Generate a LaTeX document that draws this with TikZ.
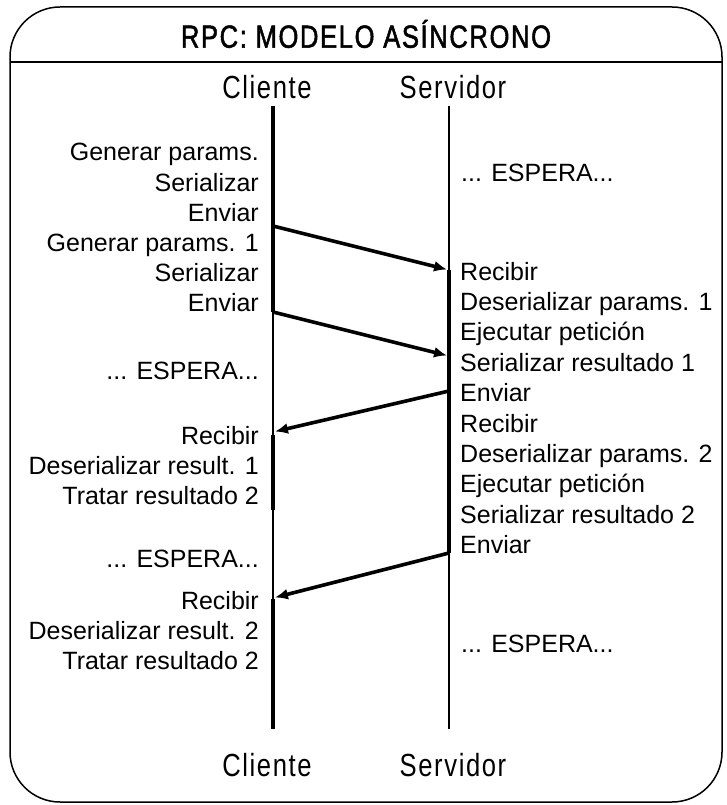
\documentclass[tikz,border=0pt]{standalone}
\usepackage{fontspec}
\setmainfont{Liberation Sans}
\newfontfamily\ejefont[FakeStretch=0.8,LetterSpace=5]{Liberation Sans}
\newfontfamily\titlefont[FakeStretch=0.8,LetterSpace=5,FakeBold=1.5]{Liberation Sans}
\usetikzlibrary{arrows.meta}

\begin{document}
\begin{tikzpicture}[x=1pt,y=-1pt,
    paso/.style={font=\fontsize{25}{30}\selectfont,inner sep=0pt},
    eje/.style={font=\ejefont\fontsize{32}{36}\selectfont,inner sep=0pt},
    titulo/.style={font=\titlefont\fontsize{32}{36}\selectfont,inner sep=0pt},
    vida/.style={line width=1.3pt},
    activo/.style={line width=4.4pt},
    msg/.style={line width=3.6pt,-{Latex[length=13pt,width=11pt]},shorten >=2pt}]
  \useasboundingbox (0,0) rectangle (726,805);
  \draw[line width=1.5pt,rounded corners=50pt] (10,7) rectangle (722,802);
  \draw[line width=1.5pt] (10,62) -- (722,62);
  \node[titulo] (titulo) at (366,34) {RPC: MODELO ASÍNCRONO};
  \node[eje] (cli) at (267,87) {Cliente};
  \node[eje] (srv) at (453,87) {Servidor};
  \node[eje] (cliB) at (267,765) {Cliente};
  \node[eje] (srvB) at (453,765) {Servidor};
  % lineas de vida
  \coordinate (c0) at (273,106);
  \coordinate (cE) at (273,729);
  \coordinate (s0) at (449,106);
  \coordinate (sE) at (449,729);
  \draw[vida] (c0) -- (cE);
  \draw[vida] (s0) -- (sE);
  % extremos de los mensajes
  \coordinate (env1) at (273,226);
  \coordinate (env2) at (273,312);
  \coordinate (rec1) at (449,270);
  \coordinate (rec2) at (449,356);
  \coordinate (res1) at (449,391);
  \coordinate (res2) at (449,553);
  \coordinate (ret1) at (273,432);
  \coordinate (ret2) at (273,598);
  \draw[activo] (c0) -- (env2);
  \draw[activo] (273,435) -- (273,510);
  \draw[activo] (273,599) -- (cE);
  \draw[activo] (rec1) -- (res2);
  \draw[msg] (env1) -- (rec1);
  \draw[msg] (env2) -- (rec2);
  \draw[msg] (res1) -- (ret1);
  \draw[msg] (res2) -- (ret2);
  % cliente
  \foreach \t [count=\i] in {Generar params., Serializar, Enviar,
      Generar params. 1, Serializar, Enviar}
    \node[paso,anchor=base east] (ca\i) at (259,131+30*\i) {\t};
  \node[paso,anchor=base east] (esp1) at (259,379) {... ESPERA...};
  \foreach \t [count=\i] in {Recibir, Deserializar result. 1, Tratar resultado 2}
    \node[paso,anchor=base east] (cb\i) at (259,414+30*\i) {\t};
  \node[paso,anchor=base east] (esp2) at (259,567) {... ESPERA...};
  \foreach \t [count=\i] in {Recibir, Deserializar result. 2, Tratar resultado 2}
    \node[paso,anchor=base east] (cc\i) at (259,579+30*\i) {\t};
  % servidor
  \node[paso,anchor=base west] (esp3) at (461,182) {... ESPERA...};
  \foreach \t [count=\i] in {Recibir, Deserializar params. 1, Ejecutar petición,
      Serializar resultado 1, Enviar, Recibir, Deserializar params. 2,
      Ejecutar petición, Serializar resultado 2, Enviar}
    \node[paso,anchor=base west] (sa\i) at (460,249.6+30.4*\i) {\t};
  \node[paso,anchor=base west] (esp4) at (461,652) {... ESPERA...};
\end{tikzpicture}
\end{document}
